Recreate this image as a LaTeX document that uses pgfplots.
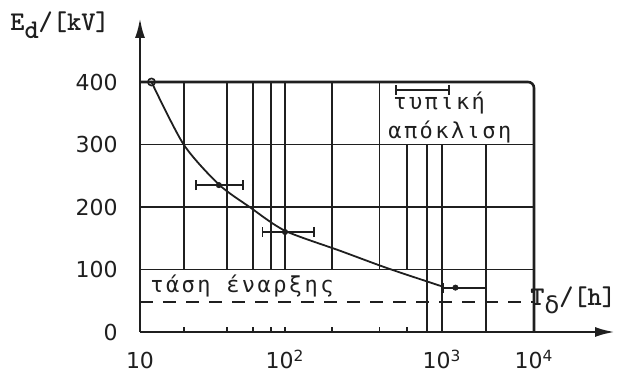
\documentclass[border=0pt]{standalone}
\usepackage{fontspec}
\setmainfont{DejaVu Sans}
\newfontfamily\lettering{DejaVu Sans Mono}[LetterSpace=11]
\usepackage{pgfplots}
\pgfplotsset{compat=1.18}
\usetikzlibrary{arrows.meta}
\definecolor{ink}{gray}{0.12}
\begin{document}
\begin{tikzpicture}[
  gridline/.style={ink, line width=0.9pt},
  axisline/.style={ink, line width=1.3pt},
]
\begin{axis}[
  scale only axis, width=197pt, height=125pt,
  xmin=10, xmax=10000, ymin=0, ymax=400,
  x coord trafo/.code={\pgfmathparse{(#1)<=0 ? 10 : (#1)}\let\mylv\pgfmathresult
    \pgfmathparse{log10(\mylv)}\let\mylx\pgfmathresult
    \pgfmathparse{\mylx<2 ? (\mylx-1)*145 : (\mylx<3 ? 145+(\mylx-2)*157 : 302+(\mylx-3)*92)}},
  axis line style={draw=none},
  major tick length=0pt,
  xtick={10,100,1000,10000},
  xticklabels={10,10\textsuperscript{2},10\textsuperscript{3},10\textsuperscript{4}},
  ytick={0,100,200,300,400},
  /pgf/number format/assume math mode=true,
  tick label style={font=\fontsize{11}{13}\selectfont, inner sep=0pt, text=ink},
  yticklabel style={anchor=east, xshift=-11pt},
  xticklabel style={anchor=base, yshift=-18.5pt},
  clip=false,
]
\coordinate (O) at (rel axis cs:0,0);
% vertical grid lines (partial extents as in the original drawing)
\pgfplotsinvokeforeach{20,40,60,80,100,200,400}{
  \draw[gridline] (axis cs:#1,100) -- (axis cs:#1,400);
  \draw[gridline] (axis cs:#1,0) -- ++(0,2.5pt);
}
\draw[gridline] (axis cs:600,100) -- (axis cs:600,300);
\draw[gridline] (axis cs:600,0) -- ++(0,2.5pt);
\pgfplotsinvokeforeach{800,1000,3000}{
  \draw[gridline] (axis cs:#1,0) -- (axis cs:#1,300);
}
% horizontal grid lines
\pgfplotsinvokeforeach{100,200,300}{
  \draw[gridline] (axis cs:10,#1) -- (axis cs:10000,#1);
}
% frame
\draw[axisline, rounded corners=3pt] (axis cs:10,400) -- (axis cs:10000,400) -- (axis cs:10000,0);
% axes with arrows
\draw[axisline, -{Latex[length=10pt,width=5pt]}] (axis cs:10,0) -- ++(0,157pt);
\draw[axisline, -{Latex[length=10pt,width=5pt]}] (axis cs:10,0) -- ++(237.5pt,0);

% onset voltage (dashed)
\addplot[ink, line width=1pt, dash pattern=on 6.5pt off 5pt] coordinates {(10,48) (10000,48)};

% breakdown-voltage curve
\addplot[ink, line width=0.9pt, smooth, tension=0.45] coordinates {
  (12,400) (20,300) (35,236) (57,200) (100,162) (224,130) (450,102) (1000,73)
};

% standard-deviation bars
\addplot[ink, line width=0.9pt, {Bar[width=5pt]}-{Bar[width=5pt]}] coordinates {(24,235) (52,235)};
\addplot[ink, line width=0.9pt, {Bar[width=5pt]}-{Bar[width=5pt]}] coordinates {(69,160) (155,160)};
\addplot[ink, line width=0.9pt, {Bar[width=5pt]}-{Bar[width=5pt]}] coordinates {(1000,71) (3100,71)};

% measured points
\addplot[ink, only marks, mark=*, mark size=1.3pt] coordinates {(35,235) (100,160) (1400,71)};
\addplot[ink, only marks, mark=o, mark size=1.8pt, line width=0.8pt] coordinates {(12,400)};
\end{axis}

% texts
\node[anchor=west, inner sep=0pt, text=ink] at ([shift={(-65pt,153.5pt)}]O)
  {\ttfamily\bfseries\fontsize{13.5}{15}\selectfont E\raisebox{-4pt}{d}/[kV]};
\node[anchor=west, inner sep=0pt, text=ink] at ([shift={(195pt,16pt)}]O)
  {\fontsize{13.5}{15}\selectfont\ttfamily\bfseries T\raisebox{-4pt}{\normalfont\fontsize{12}{14}\selectfont δ}/[h]};
\node[anchor=base west, inner sep=0pt, text=ink] at ([shift={(5pt,19.5pt)}]O)
  {\lettering\fontsize{11}{13}\selectfont τάση έναρξης};
\node[anchor=base west, inner sep=0pt, text=ink] at ([shift={(126.5pt,111pt)}]O)
  {\lettering\fontsize{11}{13}\selectfont τυπική};
\node[anchor=base west, inner sep=0pt, text=ink] at ([shift={(124pt,96.5pt)}]O)
  {\lettering\fontsize{11}{13}\selectfont απόκλιση};
\draw[ink, line width=0.9pt, {Bar[width=5pt]}-{Bar[width=5pt]}]
  ([shift={(127.5pt,121pt)}]O) -- ([shift={(155pt,121pt)}]O);

\pgfresetboundingbox
\path (O) ++(-70pt,-21pt) rectangle ++(316.5pt,187pt);
\end{tikzpicture}
\end{document}
